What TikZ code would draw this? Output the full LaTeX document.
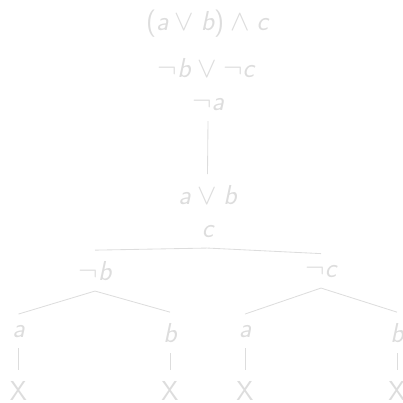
\documentclass[tikz,border=0pt]{standalone}
\usepackage{tikz}
\definecolor{tabGray}{HTML}{DDDDDD}
\newcommand{\sv}[1]{\textsf{\slshape #1}}

\begin{document}
\begin{tikzpicture}[x=0.025cm, y=-0.025cm,
  frm/.style={text=tabGray, font=\fontsize{19.5}{23}\selectfont\sffamily, anchor=base, inner sep=7.5pt},
  br/.style={draw=tabGray, line width=0.6pt}]
  \useasboundingbox (0,0) rectangle (403,403);

  % Trunk
  \node[frm] (f1) at (207,30) {$\textsf{(}\sv{a}\vee\sv{b}\textsf{)}\wedge\sv{c}$};
  \node[frm] (f2) at (206,77) {$\neg\sv{b}\vee\neg\sv{c}$};
  \node[frm] (f3) at (208,110) {$\neg\sv{a}$};
  \node[frm] (f4) at (207.5,204) {$\sv{a}\vee\sv{b}$};
  \node[frm] (f5) at (207.5,237) {$\sv{c}$};
  \draw[br] (f3.south) -- (f4.north);

  % First split
  \node[frm] (nb) at (95,280) {$\neg\sv{b}$};
  \node[frm] (nc) at (321,277) {$\neg\sv{c}$};
  \draw[br] (f5.south) -- (nb.north);
  \draw[br] (f5.south) -- (nc.north);

  % Second split
  \node[frm] (la1) at (18.5,337) {$\sv{a}$};
  \node[frm] (lb1) at (170,342) {$\sv{b}$};
  \node[frm] (la2) at (245,337) {$\sv{a}$};
  \node[frm] (lb2) at (397,342) {$\sv{b}$};
  \draw[br] (nb.south) -- (la1.north);
  \draw[br] (nb.south) -- (lb1.north);
  \draw[br] (nc.south) -- (la2.north);
  \draw[br] (nc.south) -- (lb2.north);

  % Closed branches
  \node[frm] (x1) at (18.5,400) {X};
  \node[frm] (x2) at (170,400) {X};
  \node[frm] (x3) at (245,400) {X};
  \node[frm] (x4) at (397,400) {X};
  \draw[br] (la1.south) -- (x1.north);
  \draw[br] (lb1.south) -- (x2.north);
  \draw[br] (la2.south) -- (x3.north);
  \draw[br] (lb2.south) -- (x4.north);
\end{tikzpicture}
\end{document}
